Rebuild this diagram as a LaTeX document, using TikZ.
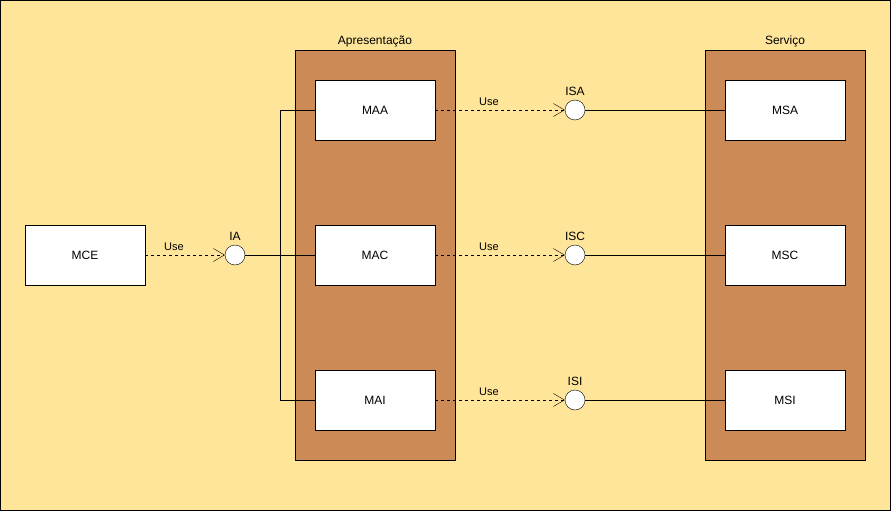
\documentclass[tikz,border=0pt]{standalone}
\usepackage{fontspec}
\setmainfont{Liberation Sans}
\usetikzlibrary{arrows.meta}
\definecolor{paper}{HTML}{FFE599}
\definecolor{layer}{HTML}{CC8A56}

\begin{document}
\begin{tikzpicture}[x=1pt, y=-1pt]
    \tikzstyle{module} = [rectangle, draw, fill=white, minimum width=120pt,
    minimum height=60pt, inner sep=0pt, font=\fontsize{12}{14}\selectfont]
\tikzstyle{layerbox} = [rectangle, draw, fill=layer, minimum width=160pt,
    minimum height=410pt, inner sep=0pt]
\tikzstyle{iface} = [circle, draw, fill=white, minimum size=20pt, inner sep=0pt]
\tikzstyle{caption} = [font=\fontsize{12}{14}\selectfont, inner sep=0pt]
\tikzstyle{use} = [draw, dashed, dash pattern=on 3pt off 3pt,
    -{Straight Barb[length=11pt,width=13pt]}]
\tikzstyle{uselbl} = [above, xshift=-11pt, yshift=1pt, font=\fontsize{11}{13}\selectfont]
\tikzstyle{link} = [draw]

    \useasboundingbox (0,0) rectangle (891,511);
    \draw[fill=paper] (0.5,0.5) rectangle (890.5,510.5);
    % Place nodes
    \node [layerbox] (apres) at (375,255) {};
    \node [layerbox] (serv) at (785,255) {};
    \node [caption] (apreslbl) at (375,41) {Apresentação};
    \node [caption] (servlbl) at (785,41) {Serviço};
    \node [module] (mce) at (85,255) {MCE};
    \node [module] (maa) at (375,110) {MAA};
    \node [module] (mac) at (375,255) {MAC};
    \node [module] (mai) at (375,400) {MAI};
    \node [module] (msa) at (785,110) {MSA};
    \node [module] (msc) at (785,255) {MSC};
    \node [module] (msi) at (785,400) {MSI};
    \node [iface, label={[caption, yshift=4pt]above:IA}] (ia) at (235,255) {};
    \node [iface, label={[caption, yshift=4pt]above:ISA}] (isa) at (575,110) {};
    \node [iface, label={[caption, yshift=4pt]above:ISC}] (isc) at (575,255) {};
    \node [iface, label={[caption, yshift=4pt]above:ISI}] (isi) at (575,400) {};
    \coordinate (bend) at (280,110);
    % Draw edges
    \path [use] (mce) -- node [uselbl] {Use} (ia);
    \path [use] (maa) -- node [uselbl] {Use} (isa);
    \path [use] (mac) -- node [uselbl] {Use} (isc);
    \path [use] (mai) -- node [uselbl] {Use} (isi);
    \path [link] (ia) -- (mac);
    \path [link] (maa) -- (bend) |- (mai);
    \path [link] (isa) -- (msa);
    \path [link] (isc) -- (msc);
    \path [link] (isi) -- (msi);
\end{tikzpicture}
\end{document}
